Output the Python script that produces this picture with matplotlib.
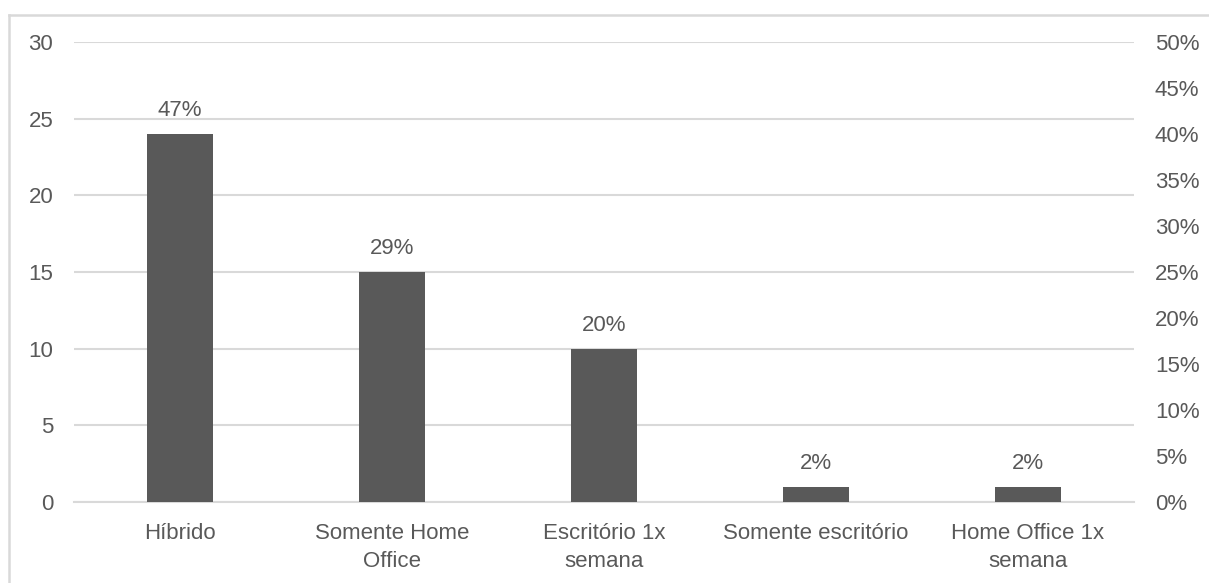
import matplotlib
matplotlib.use("Agg")
import matplotlib.pyplot as plt
from matplotlib.lines import Line2D
from matplotlib.ticker import PercentFormatter

categories = ["Híbrido", "Somente Home\nOffice", "Escritório 1x\nsemana",
              "Somente escritório", "Home Office 1x\nsemana"]
counts = [24, 15, 10, 1, 1]
pct_labels = ["47%", "29%", "20%", "2%", "2%"]

TEXT = "#595959"
BAR = "#595959"
GRID = "#d9d9d9"
FS = 16

plt.rcParams["font.family"] = ["Liberation Sans", "DejaVu Sans"]
plt.rcParams["font.size"] = FS

fig = plt.figure(figsize=(12.09, 5.83), dpi=100)
ax = fig.add_axes([0.0612, 0.1389, 0.8768, 0.7891])

x = range(len(categories))
ax.bar(x, counts, width=0.31, color=BAR, zorder=3)
for xi, c, lab in zip(x, counts, pct_labels):
    ax.annotate(lab, (xi, c), xytext=(0, 9), textcoords="offset points",
                ha="center", va="bottom", color=TEXT, fontsize=FS)

ax.set_xlim(-0.5, len(categories) - 0.5)
ax.set_ylim(0, 30)
ax.set_yticks(range(0, 31, 5))
ax.set_xticks(list(x))
ax.set_xticklabels(categories, color=TEXT, linespacing=1.45)
ax.tick_params(axis="both", length=0, colors=TEXT, labelsize=FS)
ax.tick_params(axis="y", pad=15)
ax.tick_params(axis="x", pad=15)
ax.yaxis.grid(True, color=GRID, lw=1.5, zorder=0)
for s in ax.spines.values():
    s.set_visible(False)
ax.spines["bottom"].set_visible(True)
ax.spines["bottom"].set_color(GRID)
ax.spines["bottom"].set_linewidth(1.5)

ax2 = ax.twinx()
ax2.set_ylim(0, 0.5)
ax2.set_yticks([i * 0.05 for i in range(11)])
ax2.yaxis.set_major_formatter(PercentFormatter(1.0, decimals=0))
ax2.tick_params(axis="y", length=0, colors=TEXT, labelsize=FS, pad=15)
for s in ax2.spines.values():
    s.set_visible(False)

# chart frame (left and top edges visible only)
fx, fy = 8.5 / 1209, 1 - 14.5 / 583
fig.add_artist(Line2D([fx, fx], [0, fy], transform=fig.transFigure,
                      color=GRID, lw=1.8))
fig.add_artist(Line2D([fx, 1], [fy, fy], transform=fig.transFigure,
                      color=GRID, lw=1.8))

fig.savefig("out.png", dpi=100)
